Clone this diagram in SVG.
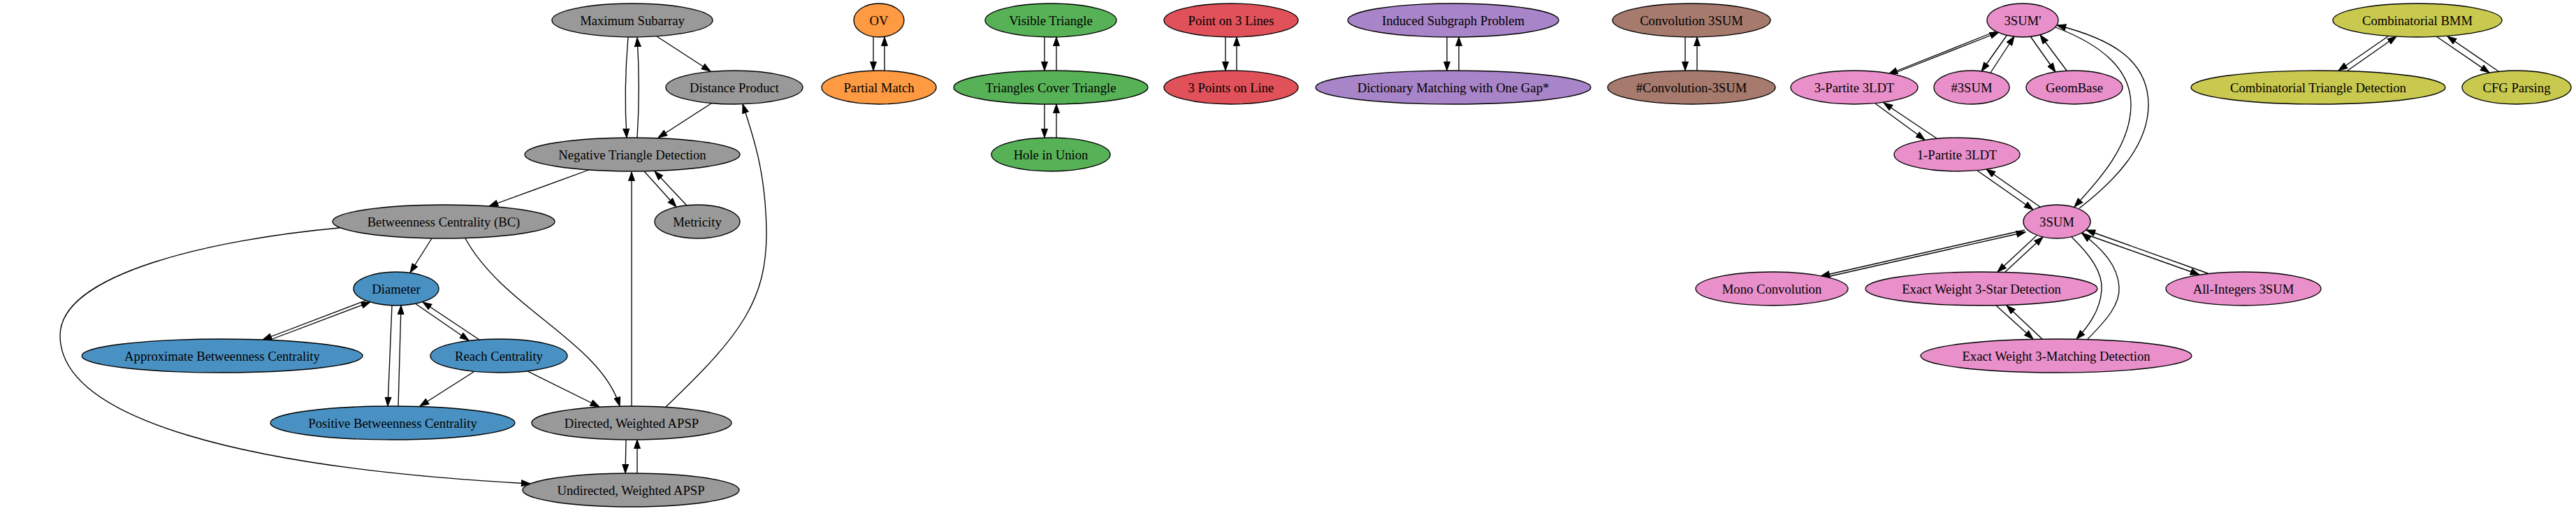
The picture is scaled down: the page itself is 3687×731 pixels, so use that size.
<svg xmlns="http://www.w3.org/2000/svg" width="3687" height="731" viewBox="0 0 3687 731">
<style>
.n ellipse{stroke:#000;stroke-width:1.33}
.n text{font-family:"Liberation Serif","Times New Roman",serif;font-size:18.67px;text-anchor:middle;fill:#000}
.gray ellipse{fill:#999999}
.blue ellipse{fill:#4a91c3}
.orange ellipse{fill:#fd9a42}
.green ellipse{fill:#57b257}
.red ellipse{fill:#e05159}
.purple ellipse{fill:#a884c8}
.brown ellipse{fill:#a67a6d}
.pink ellipse{fill:#e990cb}
.yellow ellipse{fill:#c9c94f}
#edges path{fill:none;stroke:#000;stroke-width:1.33;marker-end:url(#ah)}
</style>
<defs>
<marker id="ah" viewBox="0 0 14 10" refX="13.3" refY="5" markerWidth="14" markerHeight="10" markerUnits="userSpaceOnUse" orient="auto">
<path d="M0.5,0.5 L13.3,5 L0.5,9.5 z" fill="#000" stroke="#000" stroke-width="1"/>
</marker>
</defs>
<rect width="3687" height="731" fill="#fff"/>
<g id="edges">
<path d="M899,53 C895,100 894,150 897,197"/>
<path d="M912,197 C915,150 915,100 912,54"/>
<path d="M940,52 L1017,102"/>
<path d="M1018,148 L942,197"/>
<path d="M843,243 L700,295"/>
<path d="M922,245 L968,296"/>
<path d="M983,294 L937,245"/>
<path d="M618,341 L587,390"/>
<path d="M666,341 C720,440 860,490 887,581"/>
<path d="M486,326 C310,342 86,390 86,480 C86,600 350,670 759,692"/>
<path d="M904,581 L904,246"/>
<path d="M953,582 C1060,480 1098,430 1097,330 C1096,250 1080,200 1063,149"/>
<path d="M896,629 L895,677"/>
<path d="M912,677 L912,629"/>
<path d="M523,430 L376,486"/>
<path d="M387,486 L530,432"/>
<path d="M561,437 L555,581"/>
<path d="M570,581 C572,520 573,470 574,437"/>
<path d="M594,434 L671,487"/>
<path d="M686,486 L605,432"/>
<path d="M678,532 L601,581"/>
<path d="M755,531 L858,582"/>
<path d="M1250,53 L1250,101"/>
<path d="M1266,101 L1266,53"/>
<path d="M1495,53 L1495,101"/>
<path d="M1512,101 L1512,53"/>
<path d="M1495,149 L1495,197"/>
<path d="M1512,197 L1512,149"/>
<path d="M1754,53 L1754,101"/>
<path d="M1770,101 L1770,53"/>
<path d="M2071,53 L2071,101"/>
<path d="M2088,101 L2088,53"/>
<path d="M2412,53 L2412,101"/>
<path d="M2429,101 L2429,53"/>
<path d="M2856,45 L2703,106"/>
<path d="M2713,104 L2861,46"/>
<path d="M2872,51 L2836,102"/>
<path d="M2849,104 L2883,52"/>
<path d="M2906,52 L2942,103"/>
<path d="M2958,101 L2920,50"/>
<path d="M2942,39 C3010,65 3050,100 3050,150 C3050,210 3000,262 2969,296"/>
<path d="M2976,298 C3025,260 3075,210 3075,150 C3075,85 3020,55 2944,36"/>
<path d="M2684,148 L2755,200"/>
<path d="M2772,198 L2696,147"/>
<path d="M2830,244 L2910,300"/>
<path d="M2920,296 L2843,242"/>
<path d="M2898,329 L2606,395"/>
<path d="M2615,396 L2899,332"/>
<path d="M2915,337 L2859,389"/>
<path d="M2870,389 L2924,339"/>
<path d="M2965,339 C2992,365 3010,390 3008,415 C3006,445 2988,468 2972,485"/>
<path d="M2988,485 C3015,458 3035,435 3033,410 C3031,380 3010,357 2980,334"/>
<path d="M2979,333 L3148,393"/>
<path d="M3160,391 L2986,329"/>
<path d="M2857,437 L2910,485"/>
<path d="M2923,485 L2872,437"/>
<path d="M3418,52 L3347,101"/>
<path d="M3360,101 L3430,52"/>
<path d="M3487,52 L3563,104"/>
<path d="M3576,102 L3503,52"/>
</g>
<g id="n_maxsub" class="n gray"><ellipse cx="905" cy="29" rx="115" ry="24"/><text x="905" y="35.5">Maximum Subarray</text></g>
<g id="n_distprod" class="n gray"><ellipse cx="1051" cy="125" rx="98" ry="24"/><text x="1051" y="131.5">Distance Product</text></g>
<g id="n_negtri" class="n gray"><ellipse cx="905" cy="221" rx="154" ry="24"/><text x="905" y="227.5">Negative Triangle Detection</text></g>
<g id="n_bc" class="n gray"><ellipse cx="635" cy="317" rx="159" ry="24"/><text x="635" y="323.5">Betweenness Centrality (BC)</text></g>
<g id="n_metricity" class="n gray"><ellipse cx="998" cy="317" rx="61" ry="24"/><text x="998" y="323.5">Metricity</text></g>
<g id="n_dirapsp" class="n gray"><ellipse cx="904" cy="605" rx="143" ry="24"/><text x="904" y="611.5">Directed, Weighted APSP</text></g>
<g id="n_undirapsp" class="n gray"><ellipse cx="903" cy="701" rx="155" ry="24"/><text x="903" y="707.5">Undirected, Weighted APSP</text></g>
<g id="n_diameter" class="n blue"><ellipse cx="567" cy="413" rx="61" ry="24"/><text x="567" y="419.5">Diameter</text></g>
<g id="n_approxbc" class="n blue"><ellipse cx="318" cy="509" rx="201" ry="24"/><text x="318" y="515.5">Approximate Betweenness Centrality</text></g>
<g id="n_reach" class="n blue"><ellipse cx="714" cy="509" rx="98" ry="24"/><text x="714" y="515.5">Reach Centrality</text></g>
<g id="n_posbc" class="n blue"><ellipse cx="562" cy="605" rx="175" ry="24"/><text x="562" y="611.5">Positive Betweenness Centrality</text></g>
<g id="n_ov" class="n orange"><ellipse cx="1258" cy="29" rx="36" ry="24"/><text x="1258" y="35.5">OV</text></g>
<g id="n_partial" class="n orange"><ellipse cx="1258" cy="125" rx="82" ry="24"/><text x="1258" y="131.5">Partial Match</text></g>
<g id="n_visible" class="n green"><ellipse cx="1504" cy="29" rx="94" ry="24"/><text x="1504" y="35.5">Visible Triangle</text></g>
<g id="n_tct" class="n green"><ellipse cx="1504" cy="125" rx="139" ry="24"/><text x="1504" y="131.5">Triangles Cover Triangle</text></g>
<g id="n_hole" class="n green"><ellipse cx="1504" cy="221" rx="85" ry="24"/><text x="1504" y="227.5">Hole in Union</text></g>
<g id="n_p3l" class="n red"><ellipse cx="1762" cy="29" rx="96" ry="24"/><text x="1762" y="35.5">Point on 3 Lines</text></g>
<g id="n_3pl" class="n red"><ellipse cx="1762" cy="125" rx="96" ry="24"/><text x="1762" y="131.5">3 Points on Line</text></g>
<g id="n_induced" class="n purple"><ellipse cx="2080" cy="29" rx="151" ry="24"/><text x="2080" y="35.5">Induced Subgraph Problem</text></g>
<g id="n_dict" class="n purple"><ellipse cx="2080" cy="125" rx="197" ry="24"/><text x="2080" y="131.5">Dictionary Matching with One Gap*</text></g>
<g id="n_conv3sum" class="n brown"><ellipse cx="2421" cy="29" rx="113" ry="24"/><text x="2421" y="35.5">Convolution 3SUM</text></g>
<g id="n_sharpconv" class="n brown"><ellipse cx="2421" cy="125" rx="120" ry="24"/><text x="2421" y="131.5">#Convolution-3SUM</text></g>
<g id="n_3sumprime" class="n pink"><ellipse cx="2895" cy="29" rx="51" ry="24"/><text x="2895" y="35.5">3SUM'</text></g>
<g id="n_3partite" class="n pink"><ellipse cx="2654" cy="125" rx="91" ry="24"/><text x="2654" y="131.5">3-Partite 3LDT</text></g>
<g id="n_sharp3sum" class="n pink"><ellipse cx="2822" cy="125" rx="54" ry="24"/><text x="2822" y="131.5">#3SUM</text></g>
<g id="n_geombase" class="n pink"><ellipse cx="2969" cy="125" rx="69" ry="24"/><text x="2969" y="131.5">GeomBase</text></g>
<g id="n_1partite" class="n pink"><ellipse cx="2801" cy="221" rx="90" ry="24"/><text x="2801" y="227.5">1-Partite 3LDT</text></g>
<g id="n_3sum" class="n pink"><ellipse cx="2944" cy="317" rx="48" ry="24"/><text x="2944" y="323.5">3SUM</text></g>
<g id="n_monoconv" class="n pink"><ellipse cx="2536" cy="413" rx="109" ry="24"/><text x="2536" y="419.5">Mono Convolution</text></g>
<g id="n_3star" class="n pink"><ellipse cx="2836" cy="413" rx="166" ry="24"/><text x="2836" y="419.5">Exact Weight 3-Star Detection</text></g>
<g id="n_allint" class="n pink"><ellipse cx="3211" cy="413" rx="111" ry="24"/><text x="3211" y="419.5">All-Integers 3SUM</text></g>
<g id="n_3match" class="n pink"><ellipse cx="2943" cy="509" rx="194" ry="24"/><text x="2943" y="515.5">Exact Weight 3-Matching Detection</text></g>
<g id="n_cbmm" class="n yellow"><ellipse cx="3460" cy="29" rx="121" ry="24"/><text x="3460" y="35.5">Combinatorial BMM</text></g>
<g id="n_ctd" class="n yellow"><ellipse cx="3318" cy="125" rx="182" ry="24"/><text x="3318" y="131.5">Combinatorial Triangle Detection</text></g>
<g id="n_cfg" class="n yellow"><ellipse cx="3602" cy="125" rx="78" ry="24"/><text x="3602" y="131.5">CFG Parsing</text></g>
</svg>
